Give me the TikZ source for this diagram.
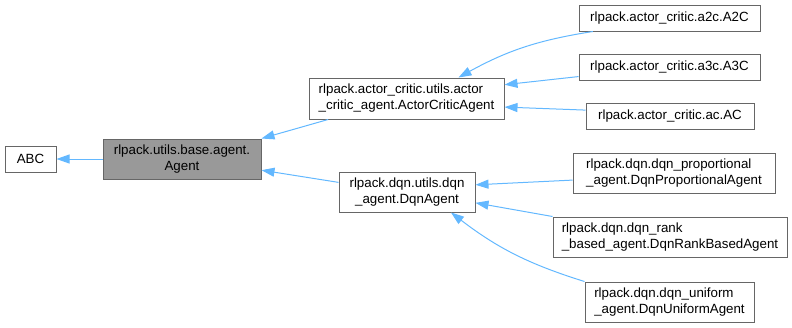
\documentclass[tikz,border=0pt]{standalone}
\usepackage{fontspec}
\setmainfont{Liberation Sans}
\usetikzlibrary{arrows.meta}
\definecolor{edgeblue}{HTML}{63B8FF}
\definecolor{boxgray}{HTML}{666666}
\definecolor{basefill}{HTML}{999999}
\begin{document}
\begin{tikzpicture}[x=1pt,y=1pt,
        cls/.style={draw=boxgray,line width=1pt,inner sep=0pt,align=center,
            font=\fontsize{13.33}{16}\selectfont,minimum height=26},
        twoline/.style={cls,minimum height=40},
        inherit/.style={draw=edgeblue,line width=1pt,-{Triangle[length=13pt,width=9pt]}}]
            \useasboundingbox (0,0) rectangle (792,-327);
            \node [cls,minimum width=51] (abc) at (30.5,-159) {ABC};
            \node [twoline,fill=basefill,minimum width=158] (agent) at (182,-159) {rlpack.utils.base.agent.\\Agent};
            \node [twoline,align=left,minimum width=195,minimum height=41] (acagent) at (406.5,-98.5) {rlpack.actor\_critic.utils.actor\\\_critic\_agent.ActorCriticAgent};
            \node [twoline,minimum width=136] (dqnagent) at (407,-192) {rlpack.dqn.utils.dqn\\\_agent.DqnAgent};
            \node [cls,minimum width=181] (a2c) at (669.5,-18) {rlpack.actor\_critic.a2c.A2C};
            \node [cls,minimum width=181] (a3c) at (669.5,-67) {rlpack.actor\_critic.a3c.A3C};
            \node [cls,minimum width=168] (ac) at (670,-116) {rlpack.actor\_critic.ac.AC};
            \node [twoline,align=left,minimum width=202] (prop) at (674,-173) {rlpack.dqn.dqn\_proportional\\\_agent.DqnProportionalAgent};
            \node [twoline,align=left,minimum width=234] (rank) at (670,-237) {rlpack.dqn.dqn\_rank\\\_based\_agent.DqnRankBasedAgent};
            \node [twoline,align=left,minimum width=169] (uniform) at (669.5,-302) {rlpack.dqn.dqn\_uniform\\\_agent.DqnUniformAgent};
            \draw [inherit] (agent) -- (abc);
            \draw [inherit] (acagent.195) -- (agent.north east);
            \draw [inherit] (dqnagent.172) -- (agent.352);
            \draw [inherit] (a2c.190) to [bend right=10] (acagent.22);
            \draw [inherit] (a3c.186) -- (acagent.8);
            \draw [inherit] (ac.176) -- (acagent.355);
            \draw [inherit] (prop.184) -- (dqnagent.6);
            \draw [inherit] (rank.north west) -- (dqnagent.351);
            \draw [inherit] (uniform.north west) to [bend left=10] (dqnagent.335);
        \end{tikzpicture}
\end{document}
